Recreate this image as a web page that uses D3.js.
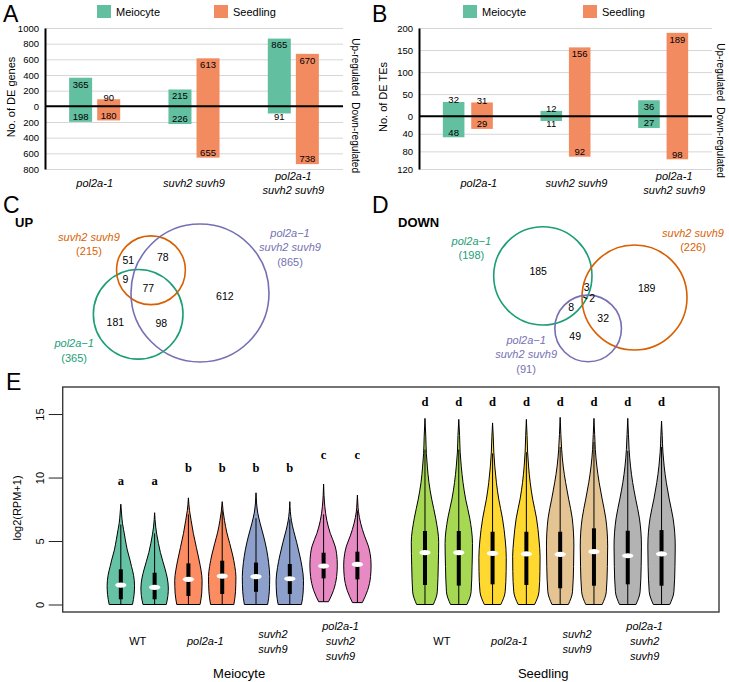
<!DOCTYPE html>
<html lang="en">
<head>
<meta charset="UTF-8">
<title>DE genes, DE TEs and expression levels</title>
<script src="https://d3js.org/d3.v7.min.js"></script>
<style>
  body { margin: 0; background: #fff; }
  svg { font-family: "Liberation Sans", Arial, sans-serif; }
</style>
</head>
<body>
<div id="chart"></div>
<script>
// ---------------- data ----------------
var genotypes = ["pol2a-1", "suvh2 suvh9", "pol2a-1 suvh2 suvh9"];
var genotypeLines = [["pol2a-1"], ["suvh2 suvh9"], ["pol2a-1", "suvh2 suvh9"]];
var tissues = ["Meiocyte", "Seedling"];

// A: number of DE genes
var geneUpMeiocyte = [365, 215, 865];
var geneUpSeedling = [90, 613, 670];
var geneDownMeiocyte = [198, 226, 91];
var geneDownSeedling = [180, 655, 738];
var geneTicks = [1000, 800, 600, 400, 200, 0, -200, -400, -600, -800];

// B: number of DE TEs
var teUpMeiocyte = [32, 12, 36];
var teUpSeedling = [31, 156, 189];
var teDownMeiocyte = [48, 11, 27];
var teDownSeedling = [29, 92, 98];
var teTicks = [200, 150, 100, 50, 0, -40, -80, -120];

// C / D: Venn diagrams (meiocyte DE genes)
var vennNames = [["pol2a\u22121"], ["suvh2 suvh9"], ["pol2a\u22121", "suvh2 suvh9"]];
var upTotals = [365, 215, 865];
var upRegions = [
  {sets: [0], n: 181}, {sets: [1], n: 51}, {sets: [2], n: 612},
  {sets: [0, 1], n: 9}, {sets: [0, 2], n: 98}, {sets: [1, 2], n: 78},
  {sets: [0, 1, 2], n: 77}
];
var downTotals = [198, 226, 91];
var downRegions = [
  {sets: [0], n: 185}, {sets: [1], n: 189}, {sets: [2], n: 49},
  {sets: [0, 1], n: 3}, {sets: [0, 2], n: 8}, {sets: [1, 2], n: 32},
  {sets: [0, 1, 2], n: 2}
];

// E: violins, log2(RPM+1); order: meiocyte WT x2, pol2a-1 x2, suvh2 suvh9 x2, triple x2, then seedling
var exprGenotypes = ["WT", "pol2a-1", "suvh2 suvh9", "pol2a-1 suvh2 suvh9"];
var exprGenotypeLines = [["WT"], ["pol2a-1"], ["suvh2", "suvh9"], ["pol2a-1", "suvh2", "suvh9"]];
var violinMin     = [0, 0, 0, 0, 0, 0, 0.22, 0.15, 0, 0, 0, 0, 0, 0, 0, 0];
var violinQ1      = [0.41, 0.41, 0.67, 0.83, 1.0, 0.83, 2.06, 1.98, 1.54, 1.49, 1.59, 1.54, 1.28, 1.48, 1.59, 1.48];
var violinMedian  = [1.53, 1.35, 1.98, 2.24, 2.19, 2.03, 3.03, 3.16, 4.08, 4.08, 4.03, 3.98, 3.95, 4.16, 3.84, 3.98];
var violinQ3      = [2.77, 2.5, 3.24, 3.45, 3.3, 3.19, 4.08, 4.16, 5.79, 5.79, 5.73, 5.73, 5.73, 6.0, 5.81, 5.86];
var violinWhisker = [6.3, 5.6, 7.1, 7.4, 6.8, 6.7, 7.1, 7.4, 12.2, 12.2, 11.9, 12.0, 12.4, 12.8, 12.1, 12.4];
// density outline: [value, relative half width]
var violinShape = [
  [[0,.85],[0.8,.97],[1.5,1],[2.3,.93],[3.0,.78],[3.5,.67],[4.3,.47],[5.1,.33],[5.9,.2],[6.4,.12],[7.2,.05],[7.9,0]],
  [[0,.85],[0.7,.97],[1.3,1],[2.1,.92],[2.8,.76],[3.4,.6],[4.1,.42],[4.8,.28],[5.5,.16],[6.1,.08],[6.7,.03],[7.23,0]],
  [[0,.85],[0.9,.97],[1.9,1],[2.7,.92],[3.5,.78],[4.5,.58],[5.6,.36],[6.6,.2],[7.4,.08],[8.4,0]],
  [[0,.85],[1.0,.97],[2.2,1],[3.0,.92],[3.9,.76],[4.8,.55],[5.7,.33],[6.6,.17],[7.3,.07],[8.1,0]],
  [[0,.85],[1.0,.97],[2.2,1],[3.3,.92],[4.3,.78],[5.4,.55],[6.4,.3],[7.2,.13],[8.0,.04],[8.8,0]],
  [[0,.85],[0.9,.97],[1.9,1],[2.9,.9],[3.9,.72],[4.9,.5],[5.8,.28],[6.6,.12],[7.3,.04],[8.1,0]],
  [[0.22,.36],[1.1,.72],[2.2,.95],[3.1,1],[4.0,.95],[4.6,.84],[5.6,.49],[6.6,.24],[7.7,.09],[8.6,.03],[9.49,0]],
  [[0.15,.36],[1.1,.74],[2.2,.96],[3.1,1],[4.0,.93],[4.6,.8],[5.4,.52],[6.4,.24],[7.3,.08],[8.0,.03],[8.62,0]],
  [[0,.61],[1.0,.9],[3.1,.97],[4.9,1],[6.8,.78],[8.3,.49],[9.6,.29],[10.9,.17],[11.9,.1],[13.2,.06],[14.66,0]],
  [[0,.6],[1.0,.9],[3.0,.97],[4.8,1],[6.8,.8],[8.3,.5],[9.6,.31],[10.9,.18],[12.0,.1],[13.3,.06],[14.58,0]],
  [[0,.6],[1.0,.92],[2.6,.99],[3.7,1],[5.0,.93],[6.8,.72],[8.3,.45],[9.6,.28],[10.9,.16],[12.0,.09],[13.2,.05],[14.3,0]],
  [[0,.6],[1.0,.92],[2.6,.99],[3.8,1],[5.0,.93],[6.8,.74],[8.3,.46],[9.6,.28],[10.9,.16],[12.0,.09],[13.3,.05],[14.58,0]],
  [[0,.6],[1.0,.9],[3.0,.98],[4.6,1],[6.8,.88],[8.3,.62],[9.6,.4],[10.9,.22],[12.2,.11],[13.4,.05],[14.74,0]],
  [[0,.6],[1.0,.9],[3.0,.98],[4.6,1],[6.8,.86],[8.3,.6],[9.6,.38],[10.9,.21],[12.2,.1],[13.4,.05],[14.66,0]],
  [[0,.6],[1.0,.9],[3.0,.98],[4.6,1],[6.8,.85],[8.3,.58],[9.6,.36],[10.9,.2],[12.2,.1],[13.4,.05],[14.66,0]],
  [[0,.6],[1.0,.9],[3.0,.98],[4.6,1],[6.8,.84],[8.3,.56],[9.6,.35],[10.9,.19],[12.0,.1],[13.3,.05],[14.45,0]]
];
var sigLetters = ["a","a","b","b","b","b","c","c","d","d","d","d","d","d","d","d"];
var sigLetterY = [9.45, 9.45, 10.45, 10.45, 10.45, 10.45, 11.45, 11.45, 15.65, 15.65, 15.65, 15.65, 15.65, 15.65, 15.65, 15.65];

// ---------------- styles ----------------
var barColors = {Meiocyte: "#62bf9f", Seedling: "#f38b61"};
var vennColors = ["#1b9e77", "#d95f02", "#7570b3"];
var violinColors = d3.schemeSet2;

var svg = d3.select("#chart").append("svg")
    .attr("width", 729)
    .attr("height", 682);

function panelLetter(t, x, y) {
  svg.append("text").attr("x", x).attr("y", y).attr("font-size", 23).text(t);
}

// ---------------- A and B: diverging bars ----------------
function barPanel(o) {
  var g = svg.append("g");
  var y = d3.scaleLinear().domain([o.ticks[o.ticks.length - 1], o.ticks[0]]).range([169, 28]);
  var x0 = d3.scaleBand().domain(genotypes).range([o.left, o.right]);
  var x1 = d3.scaleBand().domain(tissues).range([0, x0.bandwidth()])
      .paddingInner(o.padIn).paddingOuter(o.padOut);

  // gridlines
  g.append("g")
      .attr("transform", "translate(" + o.left + ",0)")
      .call(d3.axisRight(y).tickValues(o.ticks.filter(function(t) { return t !== 0; }))
        .tickSize(o.right - o.left).tickFormat(""))
      .call(function(s) { s.select(".domain").remove(); })
      .selectAll("line").attr("stroke", "#d6d6d6");

  var rows = [];
  genotypes.forEach(function(gt, i) {
    rows.push({gt: gt, tissue: "Meiocyte", up: o.upM[i], down: o.downM[i]});
    rows.push({gt: gt, tissue: "Seedling", up: o.upS[i], down: o.downS[i]});
  });

  var bars = g.selectAll(".bar").data(rows).join("g");
  bars.append("rect")
      .attr("x", function(d) { return x0(d.gt) + x1(d.tissue); })
      .attr("y", function(d) { return y(d.up); })
      .attr("width", x1.bandwidth())
      .attr("height", function(d) { return y(0) - y(d.up); })
      .attr("fill", function(d) { return barColors[d.tissue]; });
  bars.append("rect")
      .attr("x", function(d) { return x0(d.gt) + x1(d.tissue); })
      .attr("y", y(0))
      .attr("width", x1.bandwidth())
      .attr("height", function(d) { return y(-d.down) - y(0); })
      .attr("fill", function(d) { return barColors[d.tissue]; });

  // value labels
  bars.append("text")
      .attr("x", function(d) { return x0(d.gt) + x1(d.tissue) + x1.bandwidth() / 2; })
      .attr("y", function(d) {
        var len = y(0) - y(d.up);
        return len < 15 ? y(d.up) - 2 : y(d.up) + 6.5;
      })
      .attr("dy", "0.35em").attr("text-anchor", "middle").attr("font-size", 9.5)
      .text(function(d) { return d.up; });
  bars.append("text")
      .attr("x", function(d) { return x0(d.gt) + x1(d.tissue) + x1.bandwidth() / 2; })
      .attr("y", function(d) {
        var len = y(-d.down) - y(0);
        return len < 10 ? y(-d.down) + 3 : y(-d.down) - 5;
      })
      .attr("dy", "0.35em").attr("text-anchor", "middle").attr("font-size", 9.5)
      .text(function(d) { return d.down; });

  // zero line
  g.append("line")
      .attr("x1", o.left).attr("x2", o.right)
      .attr("y1", y(0)).attr("y2", y(0))
      .attr("stroke", "#000").attr("stroke-width", 2);

  // y axis
  var ax = g.append("g")
      .attr("transform", "translate(" + o.left + ",0)")
      .call(d3.axisLeft(y).tickValues(o.ticks).tickSize(0).tickSizeOuter(0).tickPadding(6)
        .tickFormat(function(d) { return Math.abs(d); }));
  ax.attr("font-family", null).attr("font-size", 9.5);
  ax.select(".domain").attr("stroke", "#000").attr("stroke-width", 2);

  g.append("text")
      .attr("transform", "translate(" + o.titleX + ",97) rotate(-90)")
      .attr("text-anchor", "middle").attr("font-size", 11)
      .text(o.title);

  // category labels
  genotypes.forEach(function(gt, i) {
    var lines = genotypeLines[i];
    var cx = x0(gt) + x0.bandwidth() / 2 + o.labelDx;
    lines.forEach(function(l, k) {
      g.append("text")
          .attr("x", cx)
          .attr("y", 183 - (lines.length - 1) * 7 + k * 14)
          .attr("dy", "0.35em").attr("text-anchor", "middle")
          .attr("font-size", 11).attr("font-style", "italic")
          .text(l);
    });
  });

  // side labels
  [["Up-regulated", (y(o.ticks[0]) + y(0)) / 2], ["Down-regulated", (y(0) + y(o.ticks[o.ticks.length - 1])) / 2]]
    .forEach(function(s) {
      g.append("text")
          .attr("transform", "translate(" + o.sideX + "," + s[1] + ") rotate(90)")
          .attr("text-anchor", "middle").attr("dy", "0.35em").attr("font-size", 10)
          .text(s[0]);
    });

  // legend
  tissues.forEach(function(t, i) {
    g.append("rect").attr("x", o.legendX[i]).attr("y", 5)
        .attr("width", 14).attr("height", 13).attr("fill", barColors[t]);
    g.append("text").attr("x", o.legendX[i] + 19).attr("y", 12)
        .attr("dy", "0.35em").attr("font-size", 11).text(t);
  });
}

barPanel({
  upM: geneUpMeiocyte, upS: geneUpSeedling, downM: geneDownMeiocyte, downS: geneDownSeedling,
  ticks: geneTicks, left: 45, right: 343, padIn: 0.18, padOut: 0.86,
  title: "No. of DE genes", titleX: 15, sideX: 355, labelDx: 0, legendX: [97, 214]
});
barPanel({
  upM: teUpMeiocyte, upS: teUpSeedling, downM: teDownMeiocyte, downS: teDownSeedling,
  ticks: teTicks, left: 419, right: 712, padIn: 0.24, padOut: 0.84,
  title: "No. of DE TEs", titleX: 387, sideX: 720, labelDx: 11, legendX: [463, 583]
});
panelLetter("A", 3, 22);
panelLetter("B", 372, 22);

// ---------------- C and D: proportional Venn ----------------
function lensArea(r1, r2, d) {
  if (d >= r1 + r2) return 0;
  if (d <= Math.abs(r1 - r2)) return Math.PI * Math.pow(Math.min(r1, r2), 2);
  var a1 = Math.acos((d * d + r1 * r1 - r2 * r2) / (2 * d * r1));
  var a2 = Math.acos((d * d + r2 * r2 - r1 * r1) / (2 * d * r2));
  return r1 * r1 * a1 + r2 * r2 * a2 -
    0.5 * Math.sqrt((-d + r1 + r2) * (d + r1 - r2) * (d - r1 + r2) * (d + r1 + r2));
}
function distanceForArea(r1, r2, area) {
  var lo = Math.abs(r1 - r2), hi = r1 + r2;
  for (var k = 0; k < 60; k++) {
    var mid = (lo + hi) / 2;
    if (lensArea(r1, r2, mid) > area) lo = mid; else hi = mid;
  }
  return (lo + hi) / 2;
}

function drawVenn(totals, regions, lay) {
  var g = svg.append("g");
  var maxTotal = d3.max(totals);
  var rScale = d3.scaleSqrt().domain([0, maxTotal]).range([0, lay.maxR]);
  var r = totals.map(rScale);
  var perCount = Math.PI * lay.maxR * lay.maxR / maxTotal;
  function shared(i, j) {
    return d3.sum(regions.filter(function(q) { return q.sets.indexOf(i) >= 0 && q.sets.indexOf(j) >= 0; }),
      function(q) { return q.n; });
  }
  var a = lay.first, b = lay.second, c = 3 - a - b;
  var dab = distanceForArea(r[a], r[b], shared(a, b) * perCount);
  var dac = distanceForArea(r[a], r[c], shared(a, c) * perCount);
  var dbc = distanceForArea(r[b], r[c], shared(b, c) * perCount);
  var local = [];
  local[a] = [0, 0];
  local[b] = [dab, 0];
  var lx = (dac * dac - dbc * dbc + dab * dab) / (2 * dab);
  local[c] = [lx, lay.side * Math.sqrt(Math.max(0, dac * dac - lx * lx))];
  var th = lay.angle * Math.PI / 180, cs = Math.cos(th), sn = Math.sin(th);
  var centers = local.map(function(p) {
    return [lay.anchor[0] + p[0] * cs - p[1] * sn, lay.anchor[1] + p[0] * sn + p[1] * cs];
  });

  g.selectAll("circle").data(totals).join("circle")
      .attr("cx", function(d, i) { return centers[i][0]; })
      .attr("cy", function(d, i) { return centers[i][1]; })
      .attr("r", function(d, i) { return r[i]; })
      .attr("fill", "none")
      .attr("stroke", function(d, i) { return vennColors[i]; })
      .attr("stroke-width", 1.6);

  // region labels: deepest point of each region
  var x0 = d3.min(centers, function(p, i) { return p[0] - r[i]; }),
      x1 = d3.max(centers, function(p, i) { return p[0] + r[i]; }),
      y0 = d3.min(centers, function(p, i) { return p[1] - r[i]; }),
      y1 = d3.max(centers, function(p, i) { return p[1] + r[i]; });
  var best = {};
  for (var px = x0; px <= x1; px += 0.5) {
    for (var py = y0; py <= y1; py += 0.5) {
      var inside = [], margin = Infinity;
      for (var i = 0; i < 3; i++) {
        var dd = Math.hypot(px - centers[i][0], py - centers[i][1]);
        if (dd < r[i]) inside.push(i);
        margin = Math.min(margin, Math.abs(dd - r[i]));
      }
      if (!inside.length) continue;
      var key = inside.join(",");
      if (!best[key] || margin > best[key].m) best[key] = {x: px, y: py, m: margin};
    }
  }
  regions.forEach(function(q) {
    var p = best[q.sets.join(",")];
    if (!p) return;
    var lxp = p.x, lyp = p.y;
    if (p.m < 3) {
      g.append("line").attr("x1", p.x - 1).attr("y1", p.y - 1).attr("x2", p.x + 3).attr("y2", p.y + 1)
          .attr("stroke", "#000").attr("stroke-width", 1.2);
      lxp = p.x + 8; lyp = p.y + 1;
    }
    g.append("text").attr("x", lxp).attr("y", lyp)
        .attr("dy", "0.35em").attr("text-anchor", "middle").attr("font-size", 10.5)
        .text(q.n);
  });

  // set labels
  totals.forEach(function(t, i) {
    var lines = vennNames[i].concat(["(" + t + ")"]);
    var cx = centers[i][0] + lay.labelOffsets[i][0];
    var cy = centers[i][1] + lay.labelOffsets[i][1];
    lines.forEach(function(l, k) {
      g.append("text")
          .attr("x", cx)
          .attr("y", cy - (lines.length - 1) * 7.25 + k * 14.5)
          .attr("dy", "0.35em").attr("text-anchor", "middle")
          .attr("font-size", 11)
          .attr("font-style", k < lines.length - 1 ? "italic" : null)
          .attr("fill", vennColors[i])
          .text(l);
    });
  });

  svg.append("text").attr("x", lay.titleX).attr("y", 227)
      .attr("font-size", 13).attr("font-weight", "bold").text(lay.title);
}

drawVenn(upTotals, upRegions, {
  maxR: 69, first: 2, second: 0, angle: 161, side: 1, anchor: [200, 293],
  labelOffsets: [[-64, 36.5], [-62, -26], [90, -45.5]], title: "UP", titleX: 15
});
drawVenn(downTotals, downRegions, {
  maxR: 52.5, first: 1, second: 0, angle: 193.3, side: -1, anchor: [634.5, 297.5],
  labelOffsets: [[-71.5, -27.5], [58.5, -57.5], [-62, 26]], title: "DOWN", titleX: 398
});
panelLetter("C", 3, 213);
panelLetter("D", 372, 213);

// ---------------- E: violins ----------------
(function() {
  var g = svg.append("g");
  var ex = d3.scaleLinear().domain([-0.72, 18.7]).range([62.7, 719]);
  var ey = d3.scaleLinear().domain([-0.59, 17.13]).range([612, 387]);
  var wScale = d3.scaleLinear().domain([0, 1]).range([0, 13.7]);

  var violins = violinShape.map(function(shape, i) {
    var tissue = i < 8 ? 0 : 1, k = i % 8;
    return {
      i: i, tissue: tissue, genotype: Math.floor(k / 2),
      pos: tissue * 9 + k + 1, shape: shape
    };
  });

  var vg = g.selectAll(".violin").data(violins).join("g");
  vg.append("path")
      .attr("d", function(d) {
        var cx = ex(d.pos);
        return d3.area().curve(d3.curveMonotoneY)
          .y(function(p) { return ey(p[0]); })
          .x0(function(p) { return cx - wScale(p[1]); })
          .x1(function(p) { return cx + wScale(p[1]); })(d.shape);
      })
      .attr("fill", function(d) { return violinColors[d.tissue * 4 + d.genotype]; })
      .attr("stroke", "#000").attr("stroke-width", 1);
  vg.append("line")
      .attr("x1", function(d) { return ex(d.pos); })
      .attr("x2", function(d) { return ex(d.pos); })
      .attr("y1", function(d) { return ey(violinMin[d.i]); })
      .attr("y2", function(d) { return ey(violinWhisker[d.i]); })
      .attr("stroke", "#000").attr("stroke-width", 1);
  vg.append("rect")
      .attr("x", function(d) { return ex(d.pos) - 2; })
      .attr("y", function(d) { return ey(violinQ3[d.i]); })
      .attr("width", 4)
      .attr("height", function(d) { return ey(violinQ1[d.i]) - ey(violinQ3[d.i]); })
      .attr("fill", "#000");
  vg.append("ellipse")
      .attr("cx", function(d) { return ex(d.pos); })
      .attr("cy", function(d) { return ey(violinMedian[d.i]); })
      .attr("rx", 5.6).attr("ry", 2.6)
      .attr("fill", "#fff");
  vg.append("text")
      .attr("x", function(d) { return ex(d.pos); })
      .attr("y", function(d) { return ey(sigLetterY[d.i]); })
      .attr("text-anchor", "middle")
      .attr("font-family", "'Liberation Serif', 'Times New Roman', serif")
      .attr("font-weight", "bold").attr("font-size", 12.5)
      .text(function(d) { return sigLetters[d.i]; });

  // frame
  g.append("rect")
      .attr("x", ex.range()[0]).attr("y", ey.range()[1])
      .attr("width", ex.range()[1] - ex.range()[0])
      .attr("height", ey.range()[0] - ey.range()[1])
      .attr("fill", "none").attr("stroke", "#3a3a3a").attr("stroke-width", 1.4);

  // y axis
  var ax = g.append("g")
      .attr("transform", "translate(" + ex.range()[0] + ",0)")
      .call(d3.axisLeft(ey).tickValues([0, 5, 10, 15]).tickSize(14).tickSizeOuter(0));
  ax.select(".domain").remove();
  ax.attr("font-family", null).attr("font-size", 11);
  ax.selectAll("line").attr("stroke", "#222");
  ax.selectAll("text")
      .attr("x", 0).attr("dy", 0)
      .attr("text-anchor", "middle")
      .attr("transform", "translate(-19,0) rotate(-90)");
  g.append("text")
      .attr("transform", "translate(21,508) rotate(-90)")
      .attr("text-anchor", "middle").attr("font-size", 11)
      .text("log2(RPM+1)");

  // genotype and tissue labels
  tissues.forEach(function(t, ti) {
    exprGenotypes.forEach(function(gt, gi) {
      var lines = exprGenotypeLines[gi];
      var cx = ex(ti * 9 + gi * 2 + 1.5);
      lines.forEach(function(l, k) {
        g.append("text")
            .attr("x", cx)
            .attr("y", 641.5 - (lines.length - 1) * 7.5 + k * 15)
            .attr("dy", "0.35em").attr("text-anchor", "middle")
            .attr("font-size", 11)
            .attr("font-style", gi === 0 ? null : "italic")
            .text(l);
      });
    });
    g.append("text")
        .attr("x", ex(ti * 9 + 4.5)).attr("y", 673)
        .attr("dy", "0.35em").attr("text-anchor", "middle").attr("font-size", 13)
        .text(t);
  });
})();
panelLetter("E", 6, 390);
</script>
</body>
</html>
